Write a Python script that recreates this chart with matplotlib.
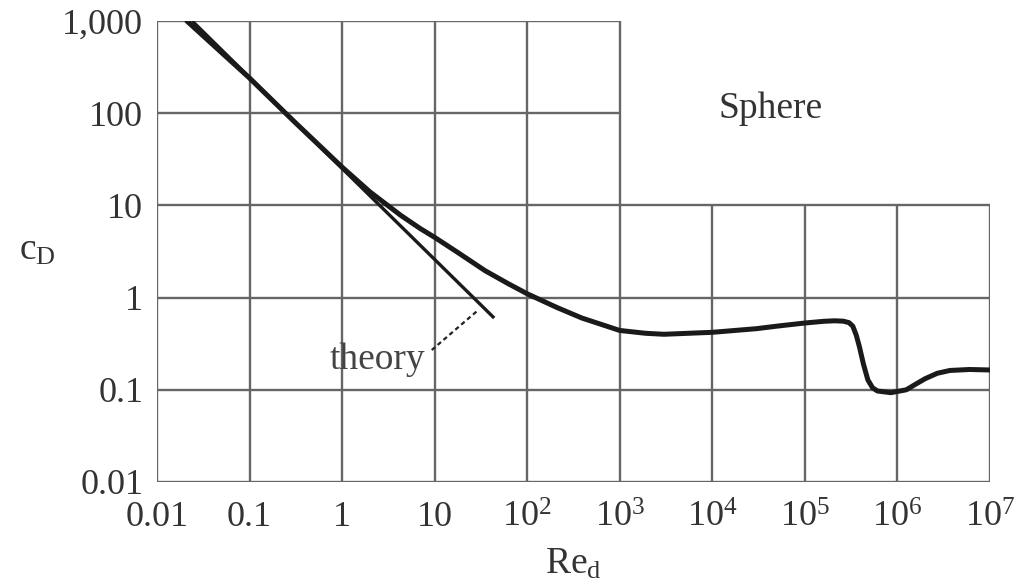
import numpy as np
import matplotlib
matplotlib.use('Agg')
import matplotlib.pyplot as plt

plt.rcParams['font.family'] = ['Liberation Serif', 'DejaVu Serif']
plt.rcParams['mathtext.fontset'] = 'custom'
plt.rcParams['mathtext.rm'] = 'Liberation Serif'
plt.rcParams['mathtext.it'] = 'Liberation Serif'

# drag coefficient of a sphere
re_vals = [0.021, 0.1, 0.3, 1, 2, 4.3, 7, 10, 18, 35, 62, 100, 210, 390,
           1000, 1900, 3000, 1e4, 3e4, 5e4, 1e5, 1.6e5, 2.1e5, 2.6e5, 3e5, 3.3e5,
           3.6e5, 3.9e5, 4.3e5, 4.8e5, 5.4e5, 6.1e5, 8.5e5, 1.25e6, 1.6e6, 2e6,
           2.7e6, 3.7e6, 6e6, 1e7]
cd_vals = [1000, 240, 82, 26, 14, 7.8, 5.6, 4.5, 3.06, 1.96, 1.42, 1.1, 0.78, 0.6,
           0.44, 0.41, 0.40, 0.42, 0.46, 0.49, 0.53, 0.553, 0.56, 0.555, 0.535, 0.49,
           0.39, 0.29, 0.19, 0.128, 0.105, 0.097, 0.093, 0.1, 0.116, 0.132,
           0.151, 0.162, 0.166, 0.164]

# Stokes theory line
theory_re = [0.024, 44]
theory_cd = [1000, 0.6]

x_ticks = [0.01, 0.1, 1, 10, 1e2, 1e3, 1e4, 1e5, 1e6, 1e7]
x_labels = ['0.01', '0.1', '1', '10', r'$10^2$', r'$10^3$', r'$10^4$',
            r'$10^5$', r'$10^6$', r'$10^7$']
y_ticks = [0.01, 0.1, 1, 10, 100, 1000]
y_labels = ['0.01', '0.1', '1', '10', '100', '1,000']

fig = plt.figure(figsize=(10.29, 5.86), dpi=100)
ax = fig.add_axes([0.1526, 0.1775, 0.8094, 0.7867])
ax.set_xscale('log')
ax.set_yscale('log')
ax.set_xlim(x_ticks[0], x_ticks[-1])
ax.set_ylim(y_ticks[0], y_ticks[-1])
for s in ax.spines.values():
    s.set_visible(False)

# step shaped grid: upper right corner left open for the label
gc = '#666666'
x_cut = 1e3
y_cut = 10
for x in x_ticks:
    top = y_ticks[-1] if x <= x_cut else y_cut
    ax.vlines(x, y_ticks[0], top, color=gc, lw=1.7, zorder=1)
for y in y_ticks:
    right = x_ticks[-1] if y <= y_cut else x_cut
    ax.hlines(y, x_ticks[0], right, color=gc, lw=1.7, zorder=1)

ax.plot(theory_re, theory_cd, color='#1a1a1a', lw=2.4, solid_capstyle='butt', zorder=3)
ax.plot(re_vals, cd_vals, color='#1a1a1a', lw=3.6, solid_capstyle='round',
        solid_joinstyle='round', zorder=4)

# label with dashed leader
ax.text(2.4, 0.21, 'theory', fontsize=27, color='#444444', ha='center', va='center')
ax.plot([9.3, 29], [0.27, 0.72], color='#222222', lw=1.6, linestyle=(0, (2, 1.5)), zorder=3)
ax.text(4.3e4, 112, 'Sphere', fontsize=27, color='#333333', ha='center', va='center')

ax.set_xticks(x_ticks)
ax.set_xticklabels(x_labels)
ax.set_yticks(y_ticks)
ax.set_yticklabels(y_labels)
ax.minorticks_off()
ax.tick_params(length=0, labelsize=26, labelcolor='#333333')
ax.tick_params(axis='x', pad=14)
ax.tick_params(axis='y', pad=10)

ax.set_xlabel(r'Re$_\mathrm{d}$', fontsize=27, color='#333333', labelpad=9)
fig.text(37 / 1029, 1 - 250 / 586, r'c$_\mathrm{D}$', fontsize=27, color='#333333',
         ha='center', va='center')

fig.savefig('out.png', dpi=100)
